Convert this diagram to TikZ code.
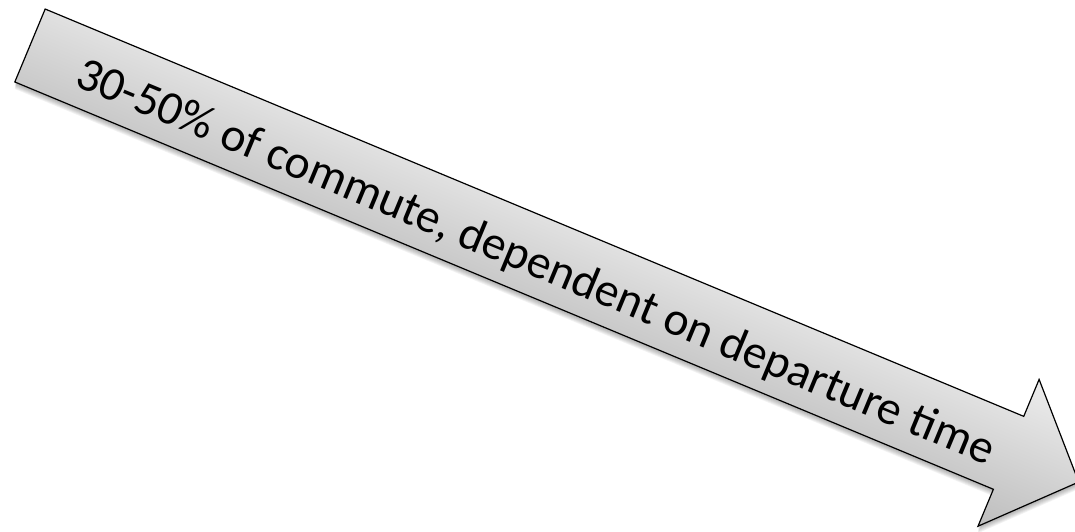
\documentclass[tikz,border=0pt]{standalone}
\usepackage{fontspec}
\setmainfont{Carlito}
\definecolor{arrtop}{HTML}{EDEDED}
\definecolor{arrbot}{HTML}{BDBDBD}
\tikzset{
  arrowbody/.style={draw=black, line width=1.2pt, line join=miter, top color=arrtop, bottom color=arrbot},
  arrowshadow/.style={fill=black, opacity=0.05},
  txtstyle/.style={font=\fontsize{47.6}{57}\selectfont, inner sep=0pt, anchor=base west}
}
\begin{document}
\begin{tikzpicture}[x=1pt,y=1pt]
\useasboundingbox (0,0) rectangle (1075,531);
\clip (0,0) rectangle (1075,531);
\begin{scope}[transform canvas={shift={(30,485.5)}, rotate=-22.6}]
  \foreach \k in {1,...,7}{
    \fill[arrowshadow, shift={(0.38*\k,-0.92*\k)}] (0,39.5) -- (1060,39.5) -- (1060,79.5) -- (1136,0) -- (1060,-79.5) -- (1060,-39.5) -- (0,-39.5) -- cycle;
  }
  \path[arrowbody] (0,39.5) -- (1060,39.5) -- (1060,79.5) -- (1136,0) -- (1060,-79.5) -- (1060,-39.5) -- (0,-39.5) -- cycle;
  \node[txtstyle] (txt) at (55,-20) {30-50\% of commute, dependent on departure time};
\end{scope}
\end{tikzpicture}
\end{document}
